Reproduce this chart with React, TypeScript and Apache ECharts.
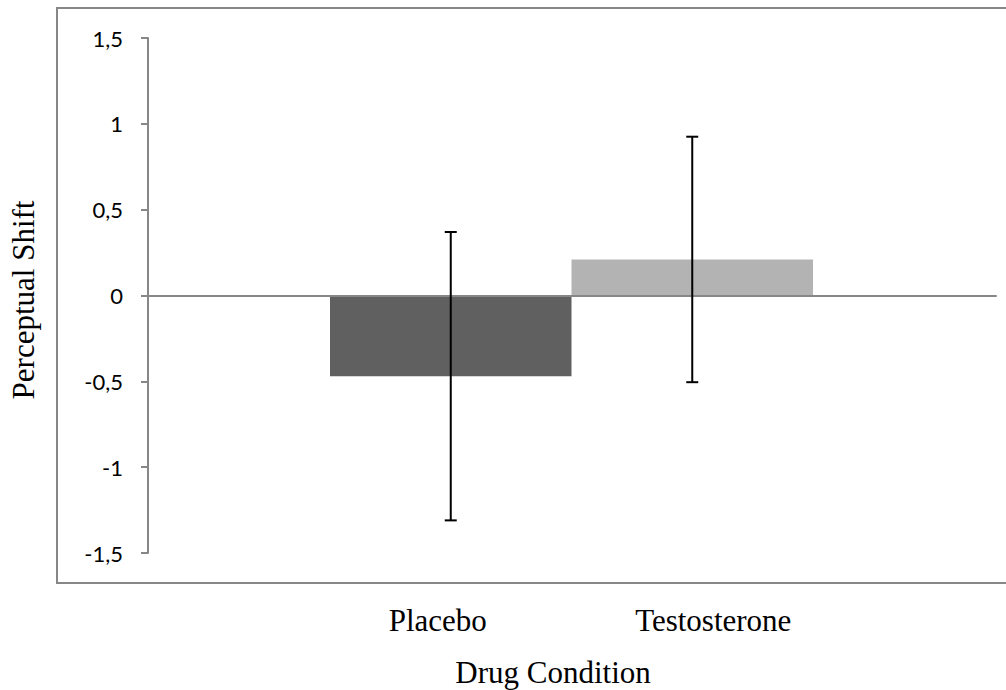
import React, { useEffect, useRef } from "react";
import * as echarts from "echarts";

const categories = ["Placebo", "Testosterone"];
const means = [-0.47, 0.21];
const errors = [0.84, 0.715];
const barColors = ["#606060", "#b3b3b3"];
const yMin = -1.5;
const yMax = 1.5;
const yStep = 0.5;
const xTitle = "Drug Condition";
const yTitle = "Perceptual Shift";

const AXIS_GRAY = "#878787";
const SERIF = "'Liberation Serif', 'Times New Roman', serif";
const SANS = "Lato, 'Liberation Sans', sans-serif";

export default function App() {
  const ref = useRef<HTMLDivElement>(null);

  useEffect(() => {
    if (!ref.current) return;
    const chart = echarts.init(ref.current, null, { renderer: "svg" });
    const gridTop = 38;
    const gridBottom = 137;
    const hiddenY = (gi: number) => ({
      gridIndex: gi,
      type: "value",
      min: yMin,
      max: yMax,
      interval: yStep,
      show: false,
    });
    const option: any = {
      animation: false,
      backgroundColor: "#ffffff",
      grid: [
        { left: 148, right: 10, top: gridTop, bottom: gridBottom },
        { left: 330, right: 193, top: gridTop, bottom: gridBottom },
        { left: 300, right: 155, top: gridTop, bottom: gridBottom },
      ],
      xAxis: [
        {
          gridIndex: 0,
          type: "category",
          data: [""],
          axisLine: { show: true, onZero: true, lineStyle: { color: AXIS_GRAY, width: 2 } },
          axisTick: { show: false },
          axisLabel: { show: false },
          splitLine: { show: false },
          z: 3,
        },
        {
          gridIndex: 1,
          type: "category",
          data: categories,
          show: false,
        },
        {
          gridIndex: 2,
          type: "category",
          data: categories,
          axisLine: { show: false, onZero: false },
          axisTick: { show: false },
          splitLine: { show: false },
          axisLabel: {
            margin: 52,
            fontFamily: SERIF,
            fontSize: 31,
            color: "#000000",
          },
        },
      ],
      yAxis: [
        {
          gridIndex: 0,
          type: "value",
          min: yMin,
          max: yMax,
          interval: yStep,
          axisLine: { show: true, lineStyle: { color: AXIS_GRAY, width: 2 } },
          axisTick: { show: true, length: 7, lineStyle: { color: AXIS_GRAY, width: 2 } },
          splitLine: { show: false },
          axisLabel: {
            margin: 25,
            fontFamily: SANS,
            fontSize: 22,
            color: "#000000",
            formatter: (v: number) => String(v).replace(".", ","),
          },
        },
        hiddenY(1),
        hiddenY(2),
      ],
      series: [
        {
          type: "bar",
          xAxisIndex: 1,
          yAxisIndex: 1,
          barCategoryGap: "0%",
          z: 2,
          data: means.map((v, i) => ({ value: v, itemStyle: { color: barColors[i] } })),
        },
        {
          type: "custom",
          xAxisIndex: 1,
          yAxisIndex: 1,
          z: 5,
          data: means.map((m, i) => [i, m - errors[i], m + errors[i]]),
          renderItem: (params: any, api: any) => {
            const lo = api.coord([api.value(0), api.value(1)]);
            const hi = api.coord([api.value(0), api.value(2)]);
            const half = 6;
            const style = { stroke: "#000000", lineWidth: 2 };
            return {
              type: "group",
              children: [
                { type: "line", shape: { x1: lo[0], y1: lo[1], x2: hi[0], y2: hi[1] }, style },
                { type: "line", shape: { x1: lo[0] - half, y1: lo[1], x2: lo[0] + half, y2: lo[1] }, style },
                { type: "line", shape: { x1: hi[0] - half, y1: hi[1], x2: hi[0] + half, y2: hi[1] }, style },
              ],
            };
          },
        },
      ],
      graphic: [
        {
          type: "rect",
          silent: true,
          shape: { x: 57, y: 8, width: 1000, height: 575 },
          style: { fill: "none", stroke: AXIS_GRAY, lineWidth: 2 },
        },
        {
          type: "text",
          x: 553,
          y: 672,
          style: {
            text: xTitle,
            fontFamily: SERIF,
            fontSize: 31,
            fill: "#000000",
            align: "center",
            verticalAlign: "middle",
          },
        },
        {
          type: "text",
          x: 23,
          y: 300,
          rotation: Math.PI / 2,
          style: {
            text: yTitle,
            fontFamily: SERIF,
            fontSize: 31,
            fill: "#000000",
            align: "center",
            verticalAlign: "middle",
          },
        },
      ],
    };
    chart.setOption(option);
    return () => chart.dispose();
  }, []);

  return (
    <div
      ref={ref}
      style={{ position: "fixed", left: 0, top: 0, width: 1006, height: 690, background: "#fff" }}
    />
  );
}
